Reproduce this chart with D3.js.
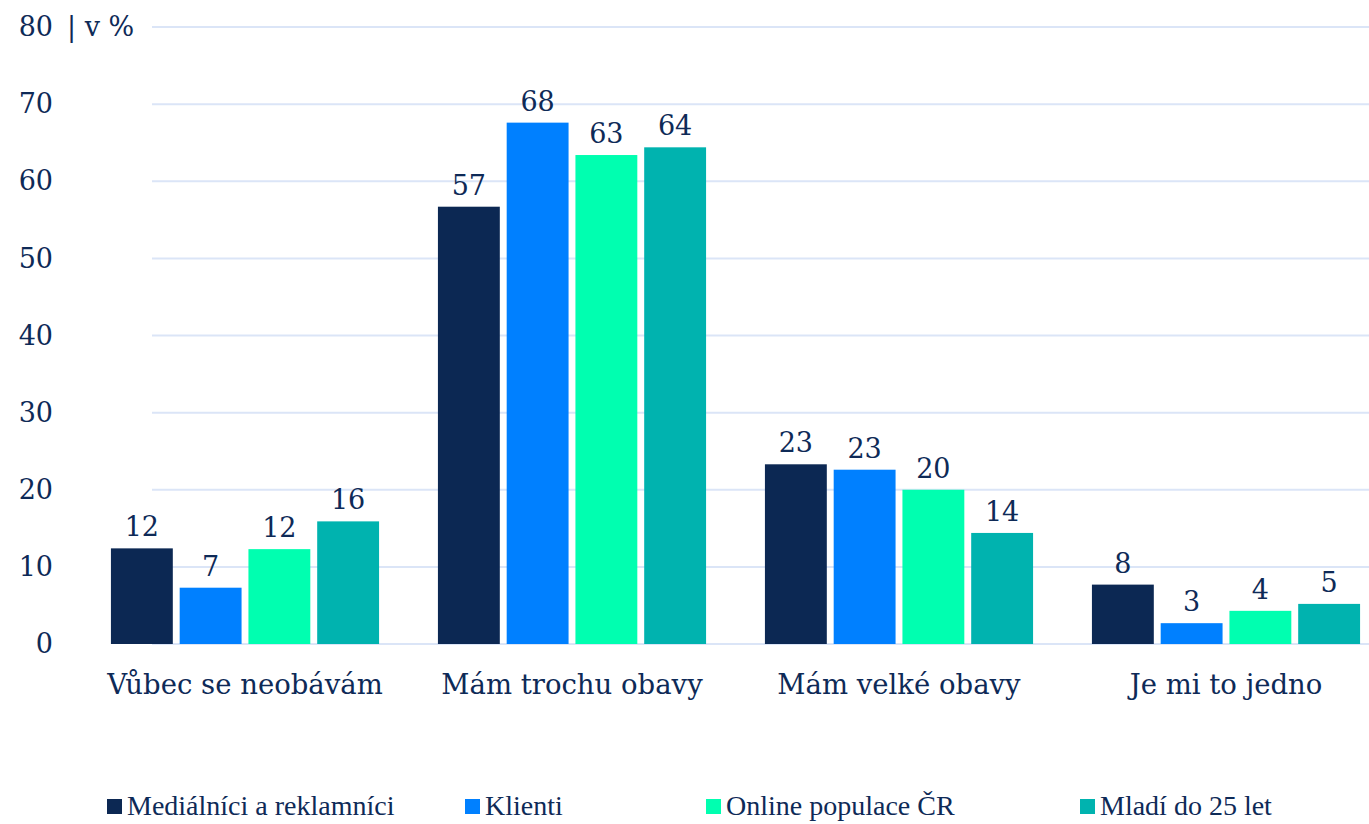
<!DOCTYPE html>
<html>
<head>
<meta charset="utf-8">
<script src="https://cdn.jsdelivr.net/npm/d3@7"></script>
<style>
  html, body { margin: 0; padding: 0; background: #ffffff; }
  svg { display: block; }
</style>
</head>
<body>
<svg id="chart" width="1369" height="824"></svg>
<script>
const categories = ["Vůbec se neobávám", "Mám trochu obavy", "Mám velké obavy", "Je mi to jedno"];
const seriesNames = ["Mediálníci a reklamníci", "Klienti", "Online populace ČR", "Mladí do 25 let"];
const seriesColors = ["#0c2853", "#0080ff", "#00ffb0", "#00b3af"];
const medialnici = [12.4, 56.7, 23.3, 7.7];
const klienti = [7.3, 67.6, 22.6, 2.7];
const onlinePopulace = [12.3, 63.4, 20.0, 4.3];
const mladi = [15.9, 64.4, 14.4, 5.2];
const yTicks = [0, 10, 20, 30, 40, 50, 60, 70, 80];
const yUnit = "| v %";

const seriesValues = [medialnici, klienti, onlinePopulace, mladi];
const textColor = "#0e2a57";
const svg = d3.select("#chart");

const y = d3.scaleLinear().domain([0, 80]).range([644, 27]);
const x0 = d3.scaleBand().domain(categories).range([81.5, 1389.5]).paddingInner(0.18).paddingOuter(0.09);
const x1 = d3.scaleBand().domain(seriesNames).range([0, x0.bandwidth()]).paddingInner(0.1);

// gridlines
svg.append("g").selectAll("line").data(yTicks).join("line")
  .attr("x1", 152).attr("x2", 1369)
  .attr("y1", d => y(d)).attr("y2", d => y(d))
  .attr("stroke", "#dbe5f7").attr("stroke-width", 2);

// y axis labels
const yAxis = d3.axisLeft(y).tickValues(yTicks).tickSize(0).tickPadding(0).tickFormat(d3.format("d"));
const yg = svg.append("g").attr("transform", "translate(53,0)").call(yAxis);
yg.select(".domain").remove();
yg.selectAll("text").attr("fill", textColor)
  .style("font-family", "'DejaVu Serif', serif").style("font-size", "27px");

// unit label
svg.append("text").attr("x", 67).attr("y", y(80)).attr("dy", "0.32em")
  .attr("fill", textColor).style("font-family", "'DejaVu Serif', serif").style("font-size", "27px")
  .text(yUnit);

// bars
const groups = svg.append("g").selectAll("g").data(categories).join("g")
  .attr("transform", d => `translate(${x0(d)},0)`);

groups.selectAll("rect").data((c, i) => seriesNames.map((s, j) => ({s, j, v: seriesValues[j][i]})))
  .join("rect")
  .attr("x", d => x1(d.s)).attr("width", x1.bandwidth())
  .attr("y", d => y(d.v)).attr("height", d => y(0) - y(d.v))
  .attr("fill", d => seriesColors[d.j]);

groups.selectAll("text").data((c, i) => seriesNames.map((s, j) => ({s, j, v: seriesValues[j][i]})))
  .join("text")
  .attr("x", d => x1(d.s) + x1.bandwidth() / 2).attr("y", d => y(d.v) - 12)
  .attr("text-anchor", "middle").attr("fill", textColor)
  .style("font-family", "'DejaVu Serif', serif").style("font-size", "27px")
  .text(d => d3.format(".0f")(d.v));

// x axis labels
const xAxis = d3.axisBottom(x0).tickSize(0).tickPadding(0);
const xg = svg.append("g").attr("transform", "translate(0,694)").call(xAxis);
xg.select(".domain").remove();
xg.selectAll("text").attr("fill", textColor).attr("dy", 0)
  .style("font-family", "'DejaVu Serif', serif").style("font-size", "27.5px");

// legend
const legendX = [107, 465, 706, 1080];
const lg = svg.append("g").selectAll("g").data(seriesNames).join("g")
  .attr("transform", (d, i) => `translate(${legendX[i]},0)`);
lg.append("rect").attr("x", 0).attr("y", 799).attr("width", 15).attr("height", 15)
  .attr("fill", (d, i) => seriesColors[i]);
lg.append("text").attr("x", 20).attr("y", 815).attr("fill", textColor)
  .style("font-family", "'Liberation Serif', serif").style("font-size", "28px")
  .text(d => d);
</script>
</body>
</html>
